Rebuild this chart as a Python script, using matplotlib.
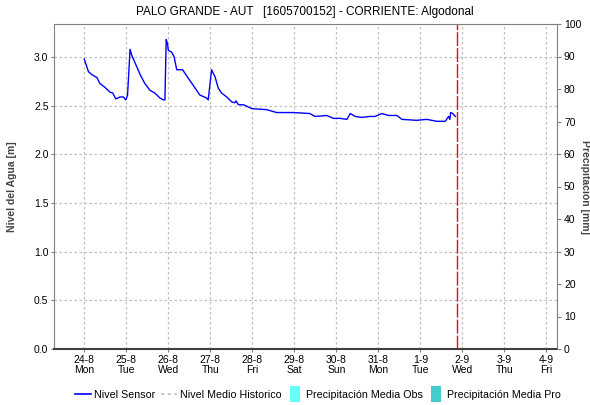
import matplotlib
matplotlib.use('Agg')
import matplotlib.pyplot as plt
from matplotlib.lines import Line2D
from matplotlib.path import Path

plt.rcParams['font.family'] = ['Liberation Sans', 'DejaVu Sans']

# days since 24-8 00:00
dias = [0.00, 0.10, 0.18, 0.30, 0.37, 0.49, 0.61, 0.68, 0.75, 0.85, 0.93, 0.99,
        1.03, 1.09, 1.13, 1.21, 1.33, 1.44, 1.56, 1.68, 1.80, 1.88, 1.92,
        1.95, 1.98, 2.00, 2.08, 2.14, 2.20, 2.34, 2.48, 2.64, 2.75, 2.91, 2.95,
        3.03, 3.11, 3.19, 3.27, 3.39, 3.51, 3.58, 3.61, 3.67, 3.79, 3.99,
        4.34, 4.58, 4.98, 5.37, 5.49, 5.77, 5.93, 6.09, 6.25, 6.33, 6.45,
        6.60, 6.80, 6.92, 7.08, 7.24, 7.44, 7.56, 7.91, 8.15, 8.39, 8.59,
        8.67, 8.70, 8.72, 8.77, 8.83]
nivel = [2.98, 2.85, 2.82, 2.79, 2.73, 2.69, 2.64, 2.63, 2.57, 2.59, 2.59, 2.56,
         2.61, 3.08, 3.02, 2.94, 2.82, 2.73, 2.66, 2.63, 2.58, 2.56, 2.56,
         3.18, 3.14, 3.07, 3.05, 3.00, 2.87, 2.87, 2.78, 2.68, 2.61, 2.58, 2.56,
         2.87, 2.80, 2.68, 2.63, 2.59, 2.54, 2.53, 2.55, 2.51, 2.51, 2.47,
         2.46, 2.43, 2.43, 2.42, 2.39, 2.40, 2.37, 2.37, 2.36, 2.42, 2.39,
         2.38, 2.39, 2.39, 2.42, 2.40, 2.40, 2.36, 2.35, 2.36, 2.34, 2.34,
         2.39, 2.36, 2.43, 2.42, 2.39]

dia_labels = ['24-8\nMon', '25-8\nTue', '26-8\nWed', '27-8\nThu', '28-8\nFri',
              '29-8\nSat', '30-8\nSun', '31-8\nMon', '1-9\nTue', '2-9\nWed',
              '3-9\nThu', '4-9\nFri']
ahora = 8.86

fig = plt.figure(figsize=(5.9, 4.05), dpi=100)
ax = fig.add_axes([54 / 590, 56 / 405, 503 / 590, 325 / 405])

ax.plot(dias, nivel, color='#0000ff', lw=1.0)
ax.axvline(ahora, color='#ff0000', lw=1.0, ls=(0, (10, 1.5)))

ax.set_xlim(-0.72, 11.25)
ax.set_ylim(0, 3.34)
ax.set_xticks(range(len(dia_labels)))
ax.set_xticklabels(dia_labels, fontsize=7.5, linespacing=1.1)
ax.set_yticks([0, 0.5, 1.0, 1.5, 2.0, 2.5, 3.0])
ax.set_yticklabels(['0.0', '0.5', '1.0', '1.5', '2.0', '2.5', '3.0'], fontsize=7.5)
ax.grid(True, color='#c0c0c0', ls=(0, (2, 2)), lw=0.9)
ax.tick_params(axis='both', length=2, width=0.8, color='#808080', pad=2)
ax.set_ylabel('Nivel del Agua [m]', fontsize=7.5, fontweight='bold',
              color='#444444', labelpad=12)
for s in ['left', 'top', 'right']:
    ax.spines[s].set_color('#808080')
ax.spines['bottom'].set_color('#404040')
ax.spines['bottom'].set_linestyle((0, (1, 1)))
ax.spines['bottom'].set_linewidth(1.5)

ax2 = ax.twinx()
ax2.set_ylim(0, 100)
ax2.set_yticks(range(0, 101, 10))
ax2.tick_params(axis='y', length=3, width=0.8, color='#808080', labelsize=7.5, pad=2)
ax2.set_ylabel('Precipitación [mm]', fontsize=7.5, fontweight='bold',
               color='#444444', rotation=-90, labelpad=6)
for s in ax2.spines.values():
    s.set_visible(False)

fig.text(305 / 590, 1 - 12 / 405, 'PALO GRANDE - AUT   [1605700152] - CORRIENTE: Algodonal',
         ha='center', va='center', fontsize=8.5)

# narrow tall box used as legend marker for the precipitation series
caja = Path([(-0.3, -0.5), (0.3, -0.5), (0.3, 0.5), (-0.3, 0.5), (-0.3, -0.5)])
handles = [Line2D([], [], color='#0000ff', lw=1.2),
           Line2D([], [], color='#c0c0c0', lw=1.2, ls=(0, (2, 2))),
           Line2D([], [], ls='none', marker=caja, markersize=11,
                  markerfacecolor='#66ffff', markeredgewidth=0),
           Line2D([], [], ls='none', marker=caja, markersize=11,
                  markerfacecolor='#44cccc', markeredgewidth=0)]
labels = ['Nivel Sensor', 'Nivel Medio Historico',
          'Precipitación Media Obs', 'Precipitación Media Pro']
leg = fig.legend(handles, labels, loc='center', bbox_to_anchor=(318 / 590, 1 - 395 / 405),
                 ncol=4, frameon=False, fontsize=7.7, handlelength=1.5, handletextpad=0.3,
                 columnspacing=0.5, borderpad=0)

fig.savefig('out.png', dpi=100)
